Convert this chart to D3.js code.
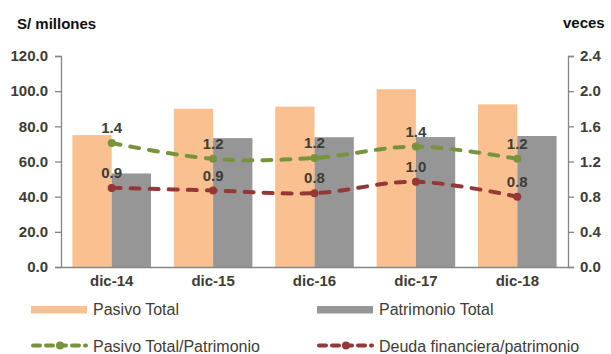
<!DOCTYPE html>
<html>
<head>
<meta charset="utf-8">
<script src="https://cdn.jsdelivr.net/npm/d3@7"></script>
<style>
  html, body { margin: 0; padding: 0; background: #fff; }
  svg { display: block; font-family: "Liberation Sans", Arial, sans-serif; }
</style>
</head>
<body>
<svg id="chart" width="611" height="354"></svg>
<script>
// Years (December close)
const categories = ["dic-14", "dic-15", "dic-16", "dic-17", "dic-18"];

// S/ millones (left axis)
const pasivoTotal = [75.0, 90.0, 91.2, 101.1, 92.5];
const patrimonioTotal = [53.2, 73.3, 73.8, 73.9, 74.5];

// veces (right axis)
const pasivoPatrimonio = [1.41, 1.23, 1.24, 1.37, 1.23];
const deudaPatrimonio = [0.90, 0.87, 0.84, 0.97, 0.80];

// Axis ticks
const leftTicks = [0, 20, 40, 60, 80, 100, 120];
const rightTicks = [0, 0.4, 0.8, 1.2, 1.6, 2.0, 2.4];

const barSeries = [
  { name: "Pasivo Total", values: pasivoTotal, color: "#FAC090" },
  { name: "Patrimonio Total", values: patrimonioTotal, color: "#969696" }
];
const lineSeries = [
  { name: "Pasivo Total/Patrimonio", values: pasivoPatrimonio, color: "#77933C" },
  { name: "Deuda financiera/patrimonio", values: deudaPatrimonio, color: "#953735" }
];

const svg = d3.select("#chart");
const m = { left: 61, right: 43, top: 56, bottom: 87 };
const W = 611, H = 354;
const textColor = "#3d3d35";
const axisColor = "#868686";

const x = d3.scaleBand().domain(categories).range([m.left, W - m.right]);
const xSub = d3.scaleBand().domain(barSeries.map(s => s.name))
  .range([0, x.bandwidth()]).paddingInner(0).paddingOuter(0.29);
const yL = d3.scaleLinear().domain([0, 120]).range([H - m.bottom, m.top]);
const yR = d3.scaleLinear().domain([0, 2.4]).range([H - m.bottom, m.top]);

// Bars
barSeries.forEach(s => {
  svg.append("g").selectAll("rect").data(s.values).join("rect")
    .attr("x", (d, i) => x(categories[i]) + xSub(s.name))
    .attr("width", xSub.bandwidth())
    .attr("y", d => yL(d))
    .attr("height", d => yL(0) - yL(d))
    .attr("fill", s.color);
});

// Axes
function styleAxis(g) {
  g.select(".domain").attr("stroke", axisColor).attr("stroke-width", 1.3);
  g.selectAll(".tick line").attr("stroke", axisColor).attr("stroke-width", 1.3);
  g.selectAll(".tick text")
    .attr("fill", textColor)
    .attr("font-size", 15)
    .attr("font-weight", "bold")
    .attr("font-family", "Liberation Sans, Arial, sans-serif");
}

svg.append("g")
  .attr("transform", `translate(${m.left},0)`)
  .call(d3.axisLeft(yL).tickValues(leftTicks).tickFormat(d3.format(".1f"))
    .tickSize(6).tickSizeOuter(6).tickPadding(7))
  .call(styleAxis);

svg.append("g")
  .attr("transform", `translate(${W - m.right},0)`)
  .call(d3.axisRight(yR).tickValues(rightTicks).tickFormat(d3.format(".1f"))
    .tickSize(6).tickSizeOuter(6).tickPadding(6))
  .call(styleAxis);

const xAxis = svg.append("g")
  .attr("transform", `translate(0,${H - m.bottom})`)
  .call(d3.axisBottom(x).tickSize(0).tickSizeOuter(0).tickPadding(8))
  .call(styleAxis);
xAxis.selectAll(".tick text").attr("dy", "0.71em");

// Axis titles
svg.append("text").attr("x", 17).attr("y", 29)
  .attr("font-size", 15).attr("font-weight", "bold").attr("fill", "#111")
  .text("S/ millones");
svg.append("text").attr("x", 563).attr("y", 28)
  .attr("font-size", 15).attr("font-weight", "bold").attr("fill", "#111")
  .text("veces");

// Ratio lines
const lineGen = d3.line()
  .x((d, i) => x(categories[i]) + x.bandwidth() / 2)
  .y(d => yR(d))
  .curve(d3.curveCatmullRom.alpha(0.5));

lineSeries.forEach(s => {
  const g = svg.append("g");
  g.append("path").datum(s.values)
    .attr("d", lineGen)
    .attr("fill", "none")
    .attr("stroke", s.color)
    .attr("stroke-width", 4)
    .attr("stroke-linecap", "round")
    .attr("stroke-dasharray", "9,10");
  g.selectAll("circle").data(s.values).join("circle")
    .attr("cx", (d, i) => x(categories[i]) + x.bandwidth() / 2)
    .attr("cy", d => yR(d))
    .attr("r", 4)
    .attr("fill", s.color);
  g.selectAll("text").data(s.values).join("text")
    .attr("x", (d, i) => x(categories[i]) + x.bandwidth() / 2)
    .attr("y", d => yR(d) - 10)
    .attr("text-anchor", "middle")
    .attr("font-size", 15)
    .attr("font-weight", "bold")
    .attr("fill", textColor)
    .text(d => d3.format(".1f")(d));
});

// Legend
const legend = svg.append("g");
const legendCols = [31, 317];
barSeries.forEach((s, i) => {
  const lx = legendCols[i];
  legend.append("rect").attr("x", lx).attr("y", 306).attr("width", 56).attr("height", 7.5)
    .attr("fill", s.color);
  legend.append("text").attr("x", lx + 62).attr("y", 314.5)
    .attr("font-size", 16).attr("fill", textColor).text(s.name);
});
lineSeries.forEach((s, i) => {
  const lx = legendCols[i];
  legend.append("line").attr("x1", lx + 2).attr("x2", lx + 55)
    .attr("y1", 345.5).attr("y2", 345.5)
    .attr("stroke", s.color).attr("stroke-width", 4)
    .attr("stroke-linecap", "round").attr("stroke-dasharray", "7,6");
  legend.append("circle").attr("cx", lx + 29).attr("cy", 345.5).attr("r", 4)
    .attr("fill", s.color);
  legend.append("text").attr("x", lx + 62).attr("y", 351.5)
    .attr("font-size", 16).attr("fill", textColor).text(s.name);
});
</script>
</body>
</html>
